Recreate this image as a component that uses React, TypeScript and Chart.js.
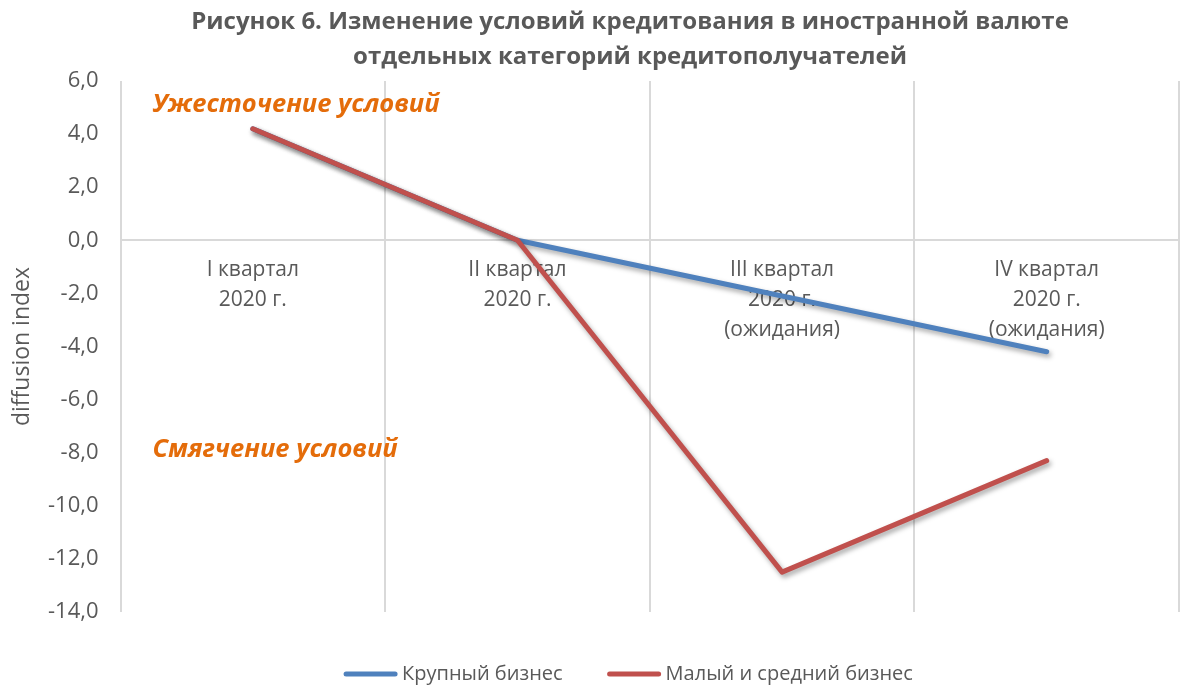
import React, { useEffect, useRef } from "react";
import { Chart, registerables } from "chart.js";

Chart.register(...registerables);

const categories: string[][] = [
  ["I квартал", "2020 г."],
  ["II квартал", "2020 г."],
  ["III квартал", "2020 г.", "(ожидания)"],
  ["IV квартал", "2020 г.", "(ожидания)"],
];
const largeBusiness: number[] = [4.2, 0.0, -2.1, -4.2];
const smallMediumBusiness: number[] = [4.2, 0.0, -12.5, -8.3];
const seriesNames: string[] = ["Крупный бизнес", "Малый и средний бизнес"];
const seriesColors: string[] = ["#4F81BD", "#C0504D"];
const titleLines: string[] = [
  "Рисунок 6. Изменение условий кредитования в иностранной валюте",
  "отдельных категорий кредитополучателей",
];
const annotations = [
  { text: "Ужесточение условий", value: 5.1 },
  { text: "Смягчение условий", value: -7.9 },
];

const FONT = "'Open Sans'";
const GREY = "#595959";

const shadowPlugin = {
  id: "lineShadow",
  beforeDatasetDraw(chart: any) {
    const ctx = chart.ctx;
    ctx.save();
    ctx.shadowColor = "rgba(0,0,0,0.35)";
    ctx.shadowBlur = 5;
    ctx.shadowOffsetX = 2;
    ctx.shadowOffsetY = 3;
  },
  afterDatasetDraw(chart: any) {
    chart.ctx.restore();
  },
};

const decorPlugin = {
  id: "decor",
  afterDraw(chart: any) {
    const ctx = chart.ctx;
    const y = chart.scales.y;
    ctx.save();
    // title
    ctx.fillStyle = GREY;
    ctx.font = `bold 24px ${FONT}`;
    ctx.textAlign = "center";
    ctx.textBaseline = "middle";
    titleLines.forEach((line, i) => ctx.fillText(line, 630, 22 + i * 35));
    // annotations
    ctx.fillStyle = "#E46C0A";
    ctx.font = `italic bold 25.5px ${FONT}`;
    ctx.textAlign = "left";
    annotations.forEach((a) => {
      ctx.fillText(a.text, chart.chartArea.left + 32, y.getPixelForValue(a.value));
    });
    // legend
    ctx.font = `20px ${FONT}`;
    const boxW = 55;
    const gap = 4;
    const itemGap = 44;
    const widths = seriesNames.map((n) => ctx.measureText(n).width);
    const total =
      widths.reduce((s, w) => s + boxW + gap + w, 0) + itemGap * (seriesNames.length - 1);
    let x = 628 - total / 2;
    const ly = 674;
    seriesNames.forEach((name, i) => {
      ctx.strokeStyle = seriesColors[i];
      ctx.lineWidth = 5;
      ctx.lineCap = "round";
      ctx.beginPath();
      ctx.moveTo(x + 3, ly);
      ctx.lineTo(x + boxW - 3, ly);
      ctx.stroke();
      ctx.fillStyle = GREY;
      ctx.fillText(name, x + boxW + gap, ly);
      x += boxW + gap + widths[i] + itemGap;
    });
    ctx.restore();
  },
};

export default function App() {
  const ref = useRef<HTMLCanvasElement | null>(null);
  useEffect(() => {
    document.body.style.margin = "0";
    if (!ref.current) return;
    const chart = new Chart(ref.current, {
      type: "line",
      data: {
        labels: categories,
        datasets: [
          {
            label: seriesNames[0],
            data: largeBusiness,
            borderColor: seriesColors[0],
            backgroundColor: seriesColors[0],
            borderWidth: 5,
            pointRadius: 0,
            borderCapStyle: "round",
            borderJoinStyle: "round",
            order: 2,
          },
          {
            label: seriesNames[1],
            data: smallMediumBusiness,
            borderColor: seriesColors[1],
            backgroundColor: seriesColors[1],
            borderWidth: 5,
            pointRadius: 0,
            borderCapStyle: "round",
            borderJoinStyle: "round",
            order: 1,
          },
        ],
      },
      options: {
        animation: false,
        responsive: true,
        maintainAspectRatio: false,
        layout: { padding: { left: 5, right: 2, top: 81, bottom: 76 } },
        plugins: {
          title: { display: false },
          legend: { display: false },
          tooltip: { enabled: false },
        },
        scales: {
          x: {
            type: "category",
            position: { y: 0 },
            offset: true,
            grid: {
              offset: true,
              color: "#D9D9D9",
              lineWidth: 2,
              drawTicks: false,
            },
            border: { display: true, color: "#D9D9D9", width: 2 },
            ticks: {
              color: GREY,
              font: { family: FONT, size: 21, lineHeight: 1.43 },
              padding: 15,
              maxRotation: 0,
              autoSkip: false,
            },
          },
          y: {
            min: -14,
            max: 6,
            grid: { display: false },
            border: { display: false },
            title: {
              display: true,
              text: "diffusion index",
              color: GREY,
              font: { family: FONT, size: 23, lineHeight: 1.0 },
              padding: { top: 6, bottom: 0 },
            },
            ticks: {
              stepSize: 2,
              color: GREY,
              font: { family: FONT, size: 22 },
              padding: 14,
              callback: (v: any) => Number(v).toFixed(1).replace(".", ","),
            },
          },
        },
      },
      plugins: [shadowPlugin, decorPlugin],
    });
    return () => chart.destroy();
  }, []);
  return (
    <div style={{ width: 1181, height: 688, position: "relative" }}>
      <canvas ref={ref} />
    </div>
  );
}
